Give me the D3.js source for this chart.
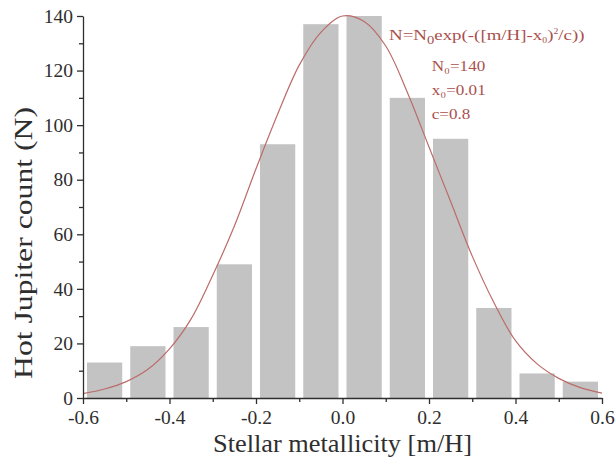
<!DOCTYPE html>
<html>
<head>
<meta charset="utf-8">
<script src="https://cdn.jsdelivr.net/npm/d3@7"></script>
<style>
  body { margin: 0; background: #fff; }
  svg text { font-family: "Liberation Serif", "Times New Roman", serif; }
</style>
</head>
<body>
<div id="container"></div>
<script>
// bin centres of the histogram ([m/H]) and counts
var binCenters = [-0.55, -0.45, -0.35, -0.25, -0.15, -0.05, 0.05, 0.15, 0.25, 0.35, 0.45, 0.55];
var counts = [13, 19, 26, 49, 93, 137, 140, 110, 95, 33, 9, 6];

// fitted curve
var curveX = [-0.6, -0.55, -0.5, -0.45, -0.4, -0.35, -0.3, -0.25, -0.2, -0.15, -0.1, -0.05,
              0, 0.05, 0.1, 0.15, 0.2, 0.25, 0.3, 0.35, 0.4, 0.45, 0.5, 0.55, 0.6];
var curveY = [1.6, 3.3, 6, 10.5, 18, 29, 45, 63, 84, 104, 122, 134,
              140, 138, 129, 112, 92, 72, 52, 35, 21, 12.5, 7.2, 3.8, 1.8];

var xTicks = [-0.6, -0.4, -0.2, 0.0, 0.2, 0.4, 0.6];
var xMinorTicks = [-0.5, -0.3, -0.1, 0.1, 0.3, 0.5];
var yTicks = [0, 20, 40, 60, 80, 100, 120, 140];
var yMinorTicks = [10, 30, 50, 70, 90, 110, 130];

var fitLines = ['N\u2080=140', 'x\u2080=0.01', 'c=0.8'];

var w = 615,
    h = 460;
var margin = { top: 16, right: 13, bottom: 62, left: 83 };
var serif = '"Liberation Serif", "Times New Roman", serif';
var ink = '#2e2e2e';
var fitColor = '#a9504c';

var svg = d3.select('#container')
    .append('svg')
    .attr('width', w)
    .attr('height', h);

var x = d3.scaleLinear()
    .domain([-0.6, 0.6])
    .range([margin.left, w - margin.right]);

var y = d3.scaleLinear()
    .domain([0, 140])
    .range([h - margin.bottom, margin.top]);

var binWidth = 0.1;
var barPad = 8;

// bars
svg.selectAll('.bar')
    .data(counts)
    .enter()
    .append('rect')
    .attr('class', 'bar')
    .attr('x', function(d, i) { return x(binCenters[i] - binWidth / 2) + barPad / 2; })
    .attr('width', function(d, i) {
        return x(binCenters[i] + binWidth / 2) - x(binCenters[i] - binWidth / 2) - barPad;
    })
    .attr('y', function(d) { return y(d); })
    .attr('height', function(d) { return y(0) - y(d); })
    .attr('fill', '#c3c3c3');

// fit curve
var line = d3.line()
    .x(function(d, i) { return x(curveX[i]); })
    .y(function(d) { return y(d); })
    .curve(d3.curveCatmullRom);

svg.append('path')
    .datum(curveY)
    .attr('d', line)
    .attr('fill', 'none')
    .attr('stroke', '#bb6c69')
    .attr('stroke-width', 1.2);

// axes
var fmt = function(d) { return d.toFixed(1); };

var xAxis = svg.append('g')
    .attr('transform', 'translate(0,' + y(0) + ')')
    .call(d3.axisBottom(x).tickValues(xTicks).tickFormat(fmt).tickSize(6).tickSizeOuter(0));

var xMinor = svg.append('g')
    .attr('transform', 'translate(0,' + y(0) + ')')
    .call(d3.axisBottom(x).tickValues(xMinorTicks).tickFormat('').tickSize(4).tickSizeOuter(0));
xMinor.select('.domain').remove();

var yAxis = svg.append('g')
    .attr('transform', 'translate(' + x(-0.6) + ',0)')
    .call(d3.axisLeft(y).tickValues(yTicks).tickSize(6).tickSizeOuter(0));

var yMinor = svg.append('g')
    .attr('transform', 'translate(' + x(-0.6) + ',0)')
    .call(d3.axisLeft(y).tickValues(yMinorTicks).tickFormat('').tickSize(4).tickSizeOuter(0));
yMinor.select('.domain').remove();

[xAxis, yAxis, xMinor, yMinor].forEach(function(g) {
    g.attr('font-family', serif).attr('font-size', 19.5);
    g.selectAll('path, line').attr('stroke', ink).attr('stroke-width', 1.3);
    g.selectAll('text').attr('fill', ink);
});
xAxis.selectAll('text').attr('y', 26).attr('dy', 0);
yAxis.selectAll('text').attr('x', -10);

// axis titles
svg.append('text')
    .attr('x', x(0))
    .attr('y', 452)
    .attr('text-anchor', 'middle')
    .attr('fill', ink)
    .attr('font-size', 25)
    .attr('textLength', 259)
    .attr('lengthAdjust', 'spacingAndGlyphs')
    .text('Stellar metallicity [m/H]');

svg.append('text')
    .attr('transform', 'translate(32,243) rotate(-90)')
    .attr('text-anchor', 'middle')
    .attr('fill', ink)
    .attr('font-size', 25)
    .attr('textLength', 272)
    .attr('lengthAdjust', 'spacingAndGlyphs')
    .text('Hot Jupiter count (N)');

// fit formula
var note = svg.append('g')
    .attr('transform', 'translate(389,40) scale(1.22,1)')
    .attr('fill', fitColor);

var formula = note.append('text')
    .attr('font-size', 15.5);
formula.append('tspan').text('N=N');
formula.append('tspan').attr('dy', 4).attr('font-size', 12).text('0');
formula.append('tspan').attr('dy', -4).text('exp(-([m/H]-x');
formula.append('tspan').attr('dy', 3).attr('font-size', 8).text('0');
formula.append('tspan').attr('dy', -3).text(')');
formula.append('tspan').attr('dy', -6).attr('font-size', 8).text('2');
formula.append('tspan').attr('dy', 6).text('/c))');

note.selectAll('.fitpar')
    .data(fitLines)
    .enter()
    .append('text')
    .attr('class', 'fitpar')
    .attr('x', 35)
    .attr('y', function(d, i) { return 31 + i * 24; })
    .attr('font-size', 14)
    .text(function(d) { return d; });
</script>
</body>
</html>
